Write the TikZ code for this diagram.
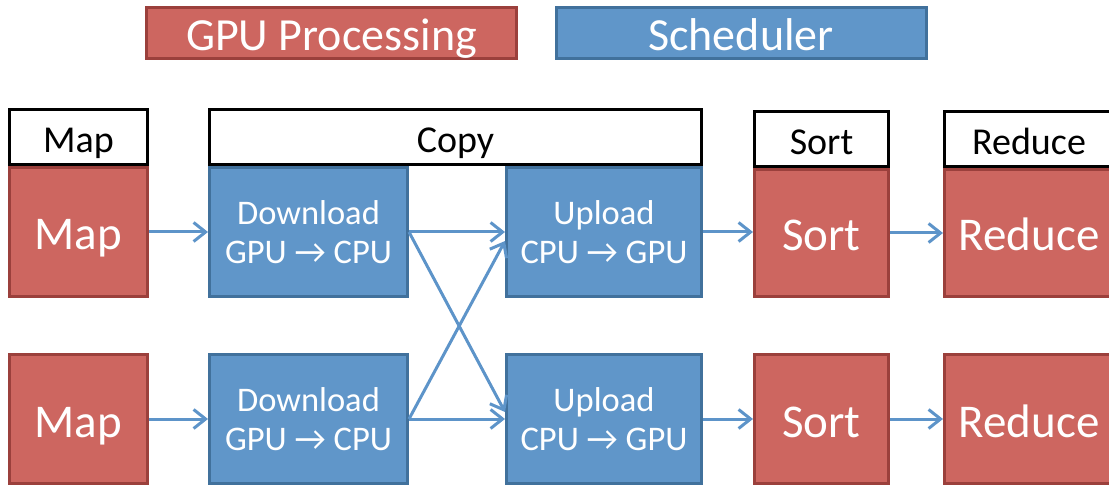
\documentclass[tikz,border=0pt]{standalone}
\usepackage{fontspec}
\setmainfont{Carlito}
\usetikzlibrary{arrows.meta}

\definecolor{gpured}{RGB}{205,102,96}
\definecolor{gpuredline}{RGB}{155,64,60}
\definecolor{schedblue}{RGB}{96,150,201}
\definecolor{schedblueline}{RGB}{65,113,156}
\definecolor{flowblue}{RGB}{93,148,201}

\begin{document}
\begin{tikzpicture}[x=1pt,y=-1pt,
  gpubox/.style={draw=gpuredline,fill=gpured,line width=3pt,text=white,inner sep=0pt,
    minimum height=129pt,text height=36pt,text depth=0pt,font=\fontsize{47}{54}\selectfont},
  schedbox/.style={draw=schedblueline,fill=schedblue,line width=3pt,text=white,inner sep=0pt,
    minimum height=129pt,align=center,font=\fontsize{34.5}{39}\selectfont},
  phase/.style={draw=black,fill=white,line width=3pt,inner sep=0pt,
    minimum height=55pt,text height=32pt,text depth=0pt,font=\fontsize{38}{44}\selectfont},
  legendbox/.style={line width=3pt,text=white,inner sep=0pt,minimum width=370pt,
    minimum height=51pt,text height=36pt,text depth=0pt,font=\fontsize{46}{52}\selectfont},
  flow/.style={flowblue,line width=3pt,-{Straight Barb[length=12pt,width=19pt]}}]
\useasboundingbox (0,0) rectangle (1109,486);

%%% legend
\node[legendbox,draw=gpuredline,fill=gpured] (lgpu) at (331.5,33) {GPU Processing};
\node[legendbox,draw=schedblueline,fill=schedblue] (lsched) at (741,33) {Scheduler};

%%% first row
\node[gpubox,minimum width=138pt] (mapT) at (78.5,232) {Map};
\node[schedbox,minimum width=198pt] (dlT) at (308.5,232) {Download\\GPU → CPU};
\node[schedbox,minimum width=195pt] (upT) at (604,232) {Upload\\CPU → GPU};
\node[gpubox,minimum width=134pt,minimum height=127pt] (sortT) at (821.5,233) {Sort};
\node[gpubox,minimum width=169pt,minimum height=127pt] (redT) at (1029,233) {Reduce};

%%% second row
\node[gpubox,minimum width=138pt] (mapB) at (78.5,419) {Map};
\node[schedbox,minimum width=198pt] (dlB) at (308.5,419) {Download\\GPU → CPU};
\node[schedbox,minimum width=195pt] (upB) at (604,419) {Upload\\CPU → GPU};
\node[gpubox,minimum width=134pt] (sortB) at (821.5,419) {Sort};
\node[gpubox,minimum width=169pt] (redB) at (1029,419) {Reduce};

%%% phase headers on top of the first row
\node[phase,minimum width=138pt] (mapH) at (78.5,137) {Map};
\node[phase,minimum width=492pt] (copyH) at (455.5,137) {Copy};
\node[phase,minimum width=134pt] (sortH) at (821.5,139) {Sort};
\node[phase,minimum width=169pt] (redH) at (1029,139) {Reduce};

%%% data flow
\draw[flow] (mapT.east) -- (mapT.east -| dlT.west);
\draw[flow] (dlT.east) -- (dlT.east -| upT.west);
\draw[flow] (dlT.east) -- ([yshift=7pt]upB.west);
\draw[flow] (upT.east) -- (upT.east -| sortT.west);
\draw[flow] (sortT.east) -- (sortT.east -| redT.west);
\draw[flow] (mapB.east) -- (mapB.east -| dlB.west);
\draw[flow] (dlB.east) -- (dlB.east -| upB.west);
\draw[flow] (dlB.east) -- ([yshift=-9pt]upT.west);
\draw[flow] (upB.east) -- (upB.east -| sortB.west);
\draw[flow] (sortB.east) -- (sortB.east -| redB.west);
\end{tikzpicture}
\end{document}
